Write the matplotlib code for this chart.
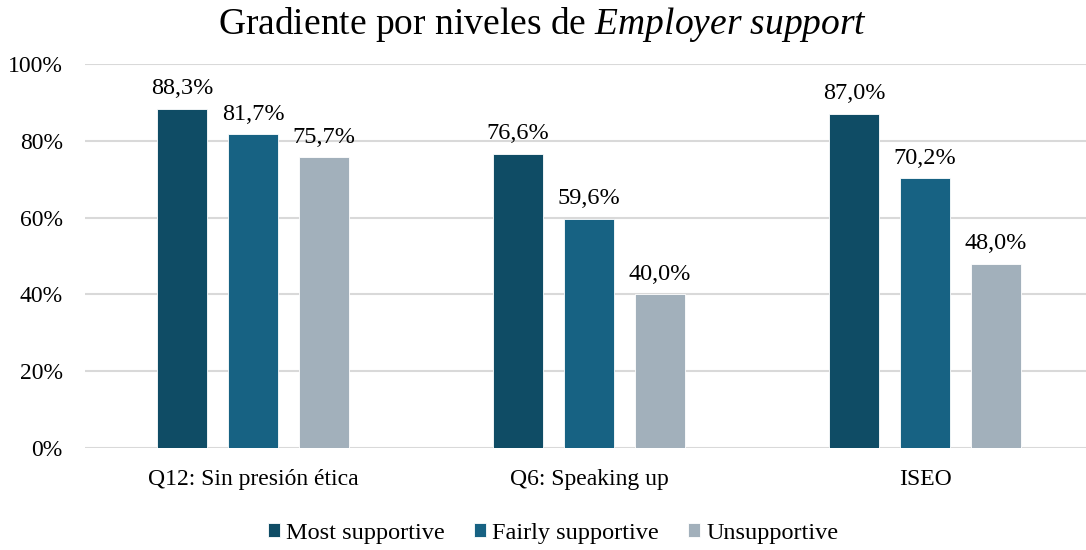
import numpy as np
import matplotlib.pyplot as plt
from matplotlib.ticker import PercentFormatter

plt.rcParams['font.family'] = ['Liberation Serif', 'DejaVu Serif']
plt.rcParams['mathtext.fontset'] = 'custom'
plt.rcParams['mathtext.rm'] = 'Liberation Serif'
plt.rcParams['mathtext.it'] = 'Liberation Serif:italic'

categories = ["Q12: Sin presión ética", "Q6: Speaking up", "ISEO"]
series_names = ["Most supportive", "Fairly supportive", "Unsupportive"]
most = [88.3, 76.6, 87.0]
fairly = [81.7, 59.6, 70.2]
unsup = [75.7, 40.0, 48.0]
colors = ["#0f4c65", "#176283", "#a2b0bb"]

fig = plt.figure(figsize=(10.86, 5.5), dpi=100)
ax = fig.add_axes([85 / 1086, 102 / 550, 1001 / 1086, 384 / 550])

x = np.arange(len(categories))
width = 0.149
offsets = [-0.211, 0, 0.211]

for vals, off, col, name in zip([most, fairly, unsup], offsets, colors, series_names):
    bars = ax.bar(x + off, vals, width, color=col, label=name, zorder=3,
                  edgecolor="white", linewidth=0.6)
    for b, v in zip(bars, vals):
        ax.annotate(f"{v:.1f}%".replace(".", ","),
                    (b.get_x() + b.get_width() / 2, v),
                    xytext=(0, 7), textcoords="offset points",
                    ha="center", va="bottom", fontsize=17.5)

ax.set_xlim(-0.5, 2.479)
ax.set_ylim(0, 100)
ax.set_yticks(range(0, 101, 20))
ax.yaxis.set_major_formatter(PercentFormatter(decimals=0))
ax.set_xticks(x)
ax.set_xticklabels(categories)
ax.tick_params(axis="both", length=0, labelsize=17)
ax.tick_params(axis="x", pad=15)
ax.tick_params(axis="y", pad=16)
ax.grid(axis="y", color="#d9d9d9", linewidth=1.5, zorder=0)
for s in ax.spines.values():
    s.set_visible(False)

fig.text(0.5, 1 - 24 / 550, "Gradiente por niveles de $Employer\\ support$",
         ha="center", va="center", fontsize=27)

fig.legend(loc="center", bbox_to_anchor=(553 / 1086, 1 - 533 / 550), ncol=3,
           frameon=False, fontsize=17.5, handlelength=0.5, handleheight=0.5,
           handletextpad=0.25, columnspacing=1.2)

fig.savefig("out.png", dpi=100)
